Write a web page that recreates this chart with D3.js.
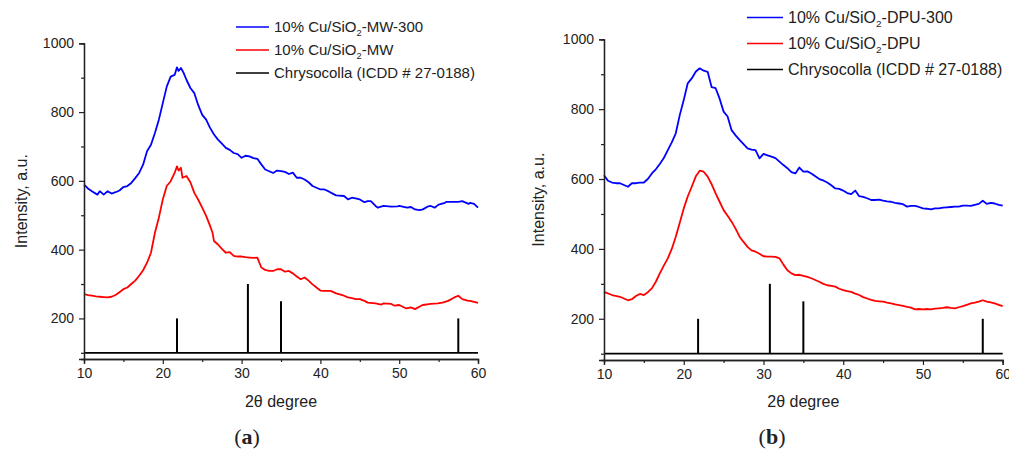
<!DOCTYPE html>
<html>
<head>
<meta charset="utf-8">
<script src="https://cdn.jsdelivr.net/npm/d3@7"></script>
<style>
  body { margin: 0; background: #fff; }
  svg text { font-family: "Liberation Sans", Arial, sans-serif; fill: #222; }
</style>
</head>
<body>
<svg id="chart" width="1009" height="451"></svg>
<script>
// ---- data: [2theta, intensity] ----
const mw300 = [[10,589],[10.5,578],[11,570],[11.7,560],[12,570],[12.5,560],[13,570],[13.5,563],[14,567],[14.5,572],
  [15,582],[15.5,585],[16,594],[16.5,608],[17,623],[17.5,647],[18,686],[18.5,705],[19,739],[19.5,778],[20,826],[20.5,874],
  [21,903],[21.5,908],[21.8,930],[22,920],[22.3,928],[22.6,916],[23,894],[23.5,870],[24,855],[24.5,820],[25,792],[25.5,778],
  [26,754],[26.5,735],[27,720],[27.5,708],[28,696],[28.5,690],[29,681],[29.5,678],[30,667],[30.5,673],[31,671],[31.5,666],
  [32,664],[32.5,648],[33,633],[33.5,628],[34,623],[34.5,630],[35,628],[35.5,626],[36,620],[36.5,624],[37,609],[37.5,609],
  [38,604],[38.5,596],[39,585],[39.5,580],[40,575],[40.5,575],[41,570],[41.8,560],[42,558],[43,556],[43.5,546],[44,551],
  [44.6,548],[45,546],[45.6,538],[46,541],[46.4,541],[47,527],[47.3,522],[48,527],[49,525],[49.8,526],[50,527],[51,522],
  [51.5,524],[52,517],[52.6,515],[53,517],[53.7,526],[54,527],[54.5,522],[55,531],[55.8,536],[56,539],[57,539],[57.5,539],
  [58,541],[58.8,533],[59,536],[59.5,533],[60,522]];
const mw = [[10,271],[10.5,268],[11,266],[11.5,264],[12,263],[12.5,262],[13,261],[13.5,263],[14,268],[14.5,276],[15,285],
  [15.5,290],[16,300],[16.5,310],[17,324],[17.5,340],[18,362],[18.5,391],[19,449],[19.5,493],[20,546],[20.5,585],[21,599],
  [21.5,623],[21.8,642],[22,630],[22.3,638],[22.5,609],[23,614],[23.5,596],[24,565],[24.5,545],[25,522],[25.5,498],[26,469],
  [26.3,450],[26.5,425],[27,415],[27.5,402],[28,391],[28.5,393],[29,382],[29.5,380],[30,380],[30.5,378],[31,377],[31.5,376],
  [32,377],[32.5,348],[33,341],[33.5,338],[34,338],[34.5,343],[35,343],[35.5,336],[36,338],[36.5,331],[37,322],[37.5,314],
  [38,319],[38.5,310],[39,299],[39.5,290],[40,281],[40.5,280],[41,280],[41.3,280],[42,273],[43,266],[43.5,261],[44,259],
  [44.5,256],[45,256],[45.6,251],[46,246],[47,244],[47.7,240],[48,244],[49,242],[49.4,237],[50,239],[50.9,229],[51.5,232],
  [52,227],[52.8,237],[53,239],[54,242],[54.9,244],[55.5,246],[56.2,251],[57,261],[57.5,266],[58,256],[58.8,251],[59,251],
  [59.5,248],[60,245]];
const dpu300 = [[10,611],[10.5,595],[11,590],[11.5,588],[12,588],[12.5,583],[13,578],[13.5,588],[14,588],[14.5,590],
  [15,590],[15.5,600],[16,616],[16.5,628],[17,643],[17.5,660],[18,683],[18.5,705],[19,731],[19.5,783],[20,826],[20.5,874],
  [21,888],[21.5,907],[22,917],[22.5,910],[23,907],[23.5,863],[24,860],[24.5,830],[25,793],[25.5,779],[26,740],[26.5,725],
  [27,712],[27.5,700],[28,688],[28.5,684],[29,683],[29.5,659],[30,672],[30.5,668],[31,664],[31.5,660],[32,650],[32.5,640],
  [33,631],[33.5,620],[34,616],[34.5,633],[35,621],[35.5,622],[36,616],[36.5,608],[37,600],[37.5,596],[38,590],[38.5,582],
  [39,573],[39.5,572],[40,567],[40.5,560],[41,557],[41.5,567],[42,551],[42.5,549],[43,545],[43.5,540],[44,540],[44.5,541],
  [45,538],[45.5,536],[46,535],[46.5,532],[47,530],[47.5,528],[48,521],[48.5,523],[49,523],[49.5,520],[50,516],[50.5,515],
  [51,513],[51.5,516],[52,516],[52.5,518],[53,519],[53.5,520],[54,521],[54.5,521],[55,524],[55.5,524],[56,523],[56.5,526],
  [57,529],[57.5,538],[58,529],[58.5,532],[59,530],[59.5,526],[60,524]];
const dpu = [[10,277],[11,268],[12,263],[12.5,258],[13,253],[13.5,256],[14,265],[14.5,271],[15,268],[15.5,276],[16,287],
  [16.5,306],[17,330],[17.5,352],[18,373],[18.5,400],[19,435],[19.5,475],[20,516],[20.5,550],[21,578],[21.5,607],[22,624],
  [22.5,621],[23,607],[23.5,585],[24,559],[24.5,535],[25,511],[25.5,495],[26,478],[26.5,458],[27,435],[27.5,420],[28,406],
  [28.5,396],[29,392],[29.5,386],[30,379],[30.5,378],[31,378],[31.5,377],[32,373],[32.5,355],[33,339],[33.5,330],[34,325],
  [34.5,326],[35,323],[35.5,320],[36,316],[36.5,311],[37,306],[37.5,300],[38,296],[38.5,294],[39,292],[39.5,286],[40,282],
  [40.5,279],[41,277],[41.5,272],[42,268],[42.5,262],[43,258],[43.5,254],[44,251],[44.5,250],[45,249],[45.5,246],[46,244],
  [46.5,241],[47,239],[47.5,237],[48,234],[48.5,232],[49,227],[49.5,228],[50,227],[50.5,228],[51,227],[51.5,229],[52,230],
  [52.5,231],[53,233],[53.5,231],[54,230],[54.5,233],[55,236],[55.5,240],[56,244],[56.5,246],[57,249],[57.5,253],[58,249],
  [58.5,247],[59,244],[59.5,240],[60,236]];

// reference pattern (Chrysocolla ICDD # 27-0188)
const refPos = [21.8, 30.8, 35.0, 57.5];
const refInt = [200, 300, 250, 200];
const refBase = 100;

const xTicks = [10, 20, 30, 40, 50, 60];
const xMinor = [15, 25, 35, 45, 55];
const yTicks = [200, 400, 600, 800, 1000];
const yMinor = [100, 300, 500, 700, 900];

const legendA = [["10% Cu/SiO", "2", "-MW-300"], ["10% Cu/SiO", "2", "-MW"], ["Chrysocolla (ICDD # 27-0188)", "", ""]];
const legendB = [["10% Cu/SiO", "2", "-DPU-300"], ["10% Cu/SiO", "2", "-DPU"], ["Chrysocolla (ICDD # 27-0188)", "", ""]];
const colors = ["#0000ff", "#ff0000", "#000000"];

const svg = d3.select("#chart");

function drawPanel(opt) {
  const g = svg.append("g");
  const x = d3.scaleLinear().domain([10, 60]).range([opt.left, opt.right]);
  const y = d3.scaleLinear().domain([82, 1000]).range([opt.bottom, opt.top]);

  const line = d3.line().x(d => x(d[0])).y(d => y(d[1]));

  // reference pattern
  g.append("line")
    .attr("x1", x(10)).attr("x2", x(60))
    .attr("y1", y(refBase)).attr("y2", y(refBase))
    .attr("stroke", "#000").attr("stroke-width", 1.8);
  g.selectAll(".stick").data(refPos).enter().append("line")
    .attr("x1", d => x(d)).attr("x2", d => x(d))
    .attr("y1", y(refBase)).attr("y2", (d, i) => y(refInt[i]))
    .attr("stroke", "#000").attr("stroke-width", 2);

  // measured patterns
  [opt.s1, opt.s2].forEach((s, i) => {
    g.append("path").datum(s)
      .attr("d", line)
      .attr("fill", "none")
      .attr("stroke", colors[i])
      .attr("stroke-width", 1.8)
      .attr("stroke-linejoin", "round");
  });

  // axes
  g.append("g").attr("transform", "translate(0," + opt.bottom + ")")
    .call(d3.axisBottom(x).tickValues(xTicks).tickSize(5).tickPadding(4).tickFormat(d3.format("d")));
  g.append("g").attr("transform", "translate(0," + opt.bottom + ")")
    .call(d3.axisBottom(x).tickValues(xMinor).tickSize(3).tickFormat(""));
  g.append("g").attr("transform", "translate(" + opt.left + ",0)")
    .call(d3.axisLeft(y).tickValues(yTicks).tickSize(5).tickPadding(5).tickFormat(d3.format("d")));
  g.append("g").attr("transform", "translate(" + opt.left + ",0)")
    .call(d3.axisLeft(y).tickValues(yMinor).tickSize(3).tickFormat(""));

  g.selectAll(".domain").attr("stroke", "#222").attr("stroke-width", 1.3);
  g.selectAll(".tick line").attr("stroke", "#222").attr("stroke-width", 1.2);
  g.selectAll(".tick text").attr("font-size", 14).attr("fill", "#222")
    .attr("font-family", "'Liberation Sans', Arial, sans-serif");

  // axis titles
  g.append("text")
    .attr("transform", "translate(" + opt.yTitleX + "," + (opt.top + opt.bottom) / 2 + ") rotate(-90)")
    .attr("text-anchor", "middle").attr("dy", "0.35em")
    .attr("font-size", 16).text("Intensity, a.u.");
  g.append("text")
    .attr("x", (opt.left + opt.right) / 2).attr("y", 407)
    .attr("text-anchor", "middle").attr("font-size", 16).text("2θ degree");

  // panel label
  const lab = g.append("text")
    .attr("x", opt.labelX).attr("y", 444)
    .attr("text-anchor", "middle")
    .style("font-family", "'Liberation Serif', 'Times New Roman', serif")
    .attr("font-size", 22);
  lab.append("tspan").text("(");
  lab.append("tspan").attr("font-weight", "bold").text(opt.label);
  lab.append("tspan").text(")");

  // legend
  opt.legend.forEach((l, i) => {
    const ly = opt.legY + i * opt.legGap;
    g.append("line")
      .attr("x1", opt.legX).attr("x2", opt.legX + opt.legLen)
      .attr("y1", ly).attr("y2", ly)
      .attr("stroke", colors[i]).attr("stroke-width", 1.6);
    const t = g.append("text")
      .attr("x", opt.legX + opt.legLen + 5).attr("y", ly).attr("dy", "0.35em")
      .attr("font-size", opt.legFont);
    t.append("tspan").text(l[0]);
    if (l[1]) {
      t.append("tspan").attr("font-size", opt.legFont * 0.62).attr("dy", 4).text(l[1]);
      t.append("tspan").attr("dy", -4).text(l[2]);
    }
  });
}

drawPanel({
  left: 84, right: 478, top: 43.3, bottom: 359,
  s1: mw300, s2: mw, legend: legendA,
  yTitleX: 21, labelX: 247, label: "a",
  legX: 236, legY: 27, legGap: 23, legLen: 33, legFont: 15
});
drawPanel({
  left: 604, right: 1002.7, top: 39.3, bottom: 360,
  s1: dpu300, s2: dpu, legend: legendB,
  yTitleX: 538, labelX: 772, label: "b",
  legX: 747, legY: 17.5, legGap: 26, legLen: 36, legFont: 16
});
</script>
</body>
</html>
